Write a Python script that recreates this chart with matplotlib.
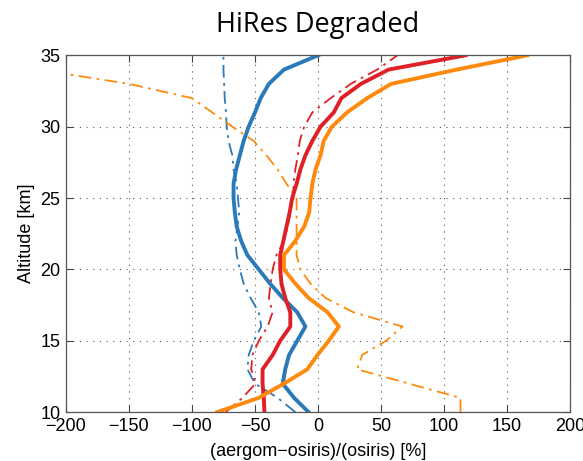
import numpy as np
import matplotlib
matplotlib.use("Agg")
import matplotlib.pyplot as plt

# altitude grid [km]
alt = [10, 11, 12, 13, 14, 15, 16, 17, 18, 19, 20, 21, 22,
       23, 24, 25, 26, 27, 28, 29, 30, 31, 32, 33, 34, 35]

# relative differences [%]
blue_solid = [-7.5, -19, -28, -26, -23, -16.5, -10, -16.5, -28, -38, -47, -56, -61,
              -64.5, -66, -67, -67, -65, -62, -59, -55, -50, -45.5, -39, -27, 0]
blue_dash = [-18, -32, -50, -56, -55, -51, -45, -47, -53.5, -59, -62, -64.5, -65.5,
             -64, -62.5, -63.5, -64.5, -67, -68, -71, -72.5, -73, -74, -74.5, -75, -75]
red_solid = [-42.5, -43, -44, -44, -36, -30, -22, -22, -26, -29, -30, -30, -27.5,
             -25, -22.5, -20.5, -17, -14, -10, -4.5, 2, 12.5, 18.5, 34, 56, 117]
red_dash = [-73, -60, -49.5, -53, -52, -47, -40, -36, -39, -37.5, -36, -33, -27,
            -24, -22, -19.5, -19.5, -18, -16, -14.5, -11, -4.5, 10, 26, 47, 63]
orange_solid = [-80, -47, -27, -8.5, -0.5, 8.5, 16.5, 7.5, -7.5, -18, -27, -27, -18,
                -11, -7, -6, -4.5, -2, 2, 4.5, 11, 23, 39, 58, 110, 166]
# orange dash-dot runs off the left edge above ~33.7 km
alt_od = alt[:-1]
orange_dash = [113, 113, 72, 31, 35, 54, 67, 28, 6, -6, -14, -17, -17,
               -17, -17, -17, -25, -32, -41, -51, -68, -84, -100, -150, -222]

c_blue = "#2a7ab9"
c_red = "#df2026"
c_orange = "#fd8a0c"

plt.rcParams["font.family"] = ["Liberation Sans", "DejaVu Sans"]

fig = plt.figure(figsize=(5.83, 4.61), dpi=100)
ax = fig.add_axes([0.113, 0.106, 0.865, 0.774])

ax.plot(blue_dash, alt, color=c_blue, lw=1.3, ls=(0, (7, 3, 1.5, 3)))
ax.plot(red_dash, alt, color=c_red, lw=1.3, ls=(0, (7, 3, 1.5, 3)))
ax.plot(orange_dash, alt_od, color=c_orange, lw=1.3, ls=(0, (7, 3, 1.5, 3)))
ax.plot(blue_solid, alt, color=c_blue, lw=2.8)
ax.plot(red_solid, alt, color=c_red, lw=2.8)
ax.plot(orange_solid, alt, color=c_orange, lw=2.8)

ax.set_xlim(-200, 200)
ax.set_ylim(10, 35)
ax.set_xticks(np.arange(-200, 201, 50))
ax.set_yticks(np.arange(10, 36, 5))
ax.grid(True, color="#555555", ls=(0, (1, 5)), lw=0.8)
ax.tick_params(direction="in", top=True, right=True, labelsize=13, length=5,
               color="#444444", pad=4)
for s in ax.spines.values():
    s.set_color("#555555")
    s.set_linewidth(0.9)

ax.set_xlabel("(aergom\u2212osiris)/(osiris) [%]", fontsize=13, labelpad=6)
ax.set_ylabel("Altitude [km]", fontsize=13, labelpad=4)
ax.set_title("HiRes Degraded", fontsize=19.5, family=["Open Sans", "DejaVu Sans"], pad=17)

fig.savefig("out.png", dpi=100)
